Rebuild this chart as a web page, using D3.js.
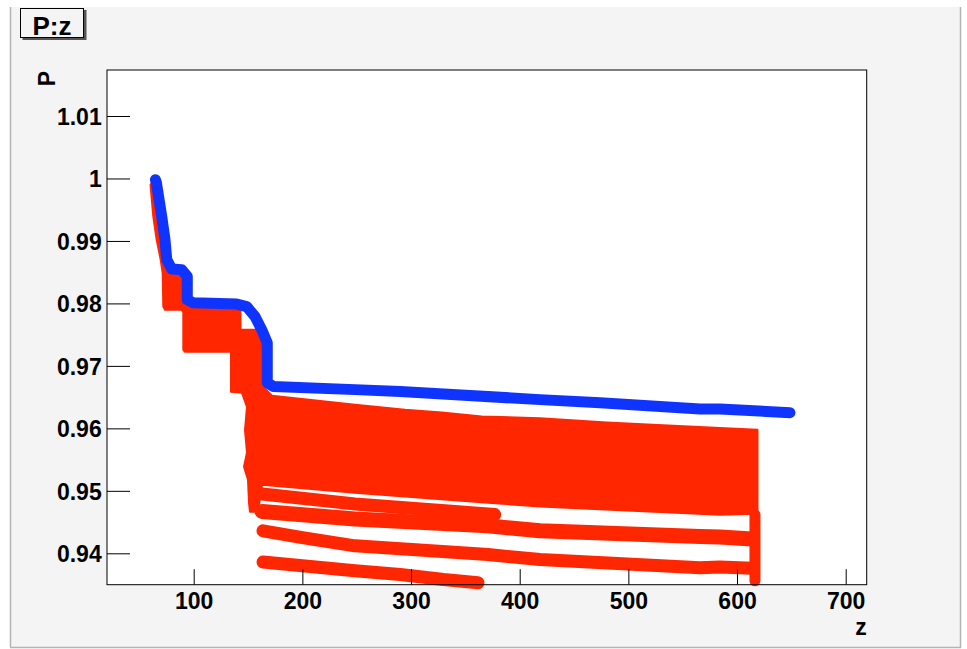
<!DOCTYPE html>
<html>
<head>
<meta charset="utf-8">
<script src="https://cdn.jsdelivr.net/npm/d3@7/dist/d3.min.js"></script>
<style>
body { margin: 0; background: #fff; }
text { font-family: "Liberation Sans", Arial, Helvetica, sans-serif; font-weight: bold; fill: #000; }
</style>
</head>
<body>
<div id="chart"></div>
<script>
// blue track, P versus z
var blueZ = [64.8, 65.6, 70.6, 73.6, 75.2, 79.8, 89.0, 94.1, 94.1, 99.6, 139.6, 148.8, 156.4, 162.6, 167.7, 167.7, 173.3, 248.4, 290, 418.7, 474, 565.9, 584.3, 648.7];
var blueP = [0.9998, 0.9994, 0.9939, 0.9902, 0.9870, 0.9855, 0.9854, 0.9843, 0.9806, 0.9801, 0.9799, 0.9795, 0.9779, 0.9758, 0.9737, 0.9673, 0.9667, 0.9662, 0.9659, 0.9646, 0.9641, 0.9631, 0.9631, 0.9625];

// outline of the dense red band (many overlapping red points)
var redBandZ = [64.4, 70.55, 75.15, 79.76, 88.96, 94.11, 94.11, 99.63, 139.57, 143.07, 143.07, 159.17, 164.69, 164.69, 172.05, 248.43, 294.44, 328.21, 365.02, 418.67, 480.05, 541.34, 584.31, 618.82,
                618.82, 584.31, 418.67, 370.82, 248.43, 162.85, 159.17, 151.81, 150.89, 149.97, 146.29, 149.05, 147.21, 149.05, 144.45, 134.32, 134.32, 91.99, 90.43, 90.43, 88.96, 73.59, 72.03, 71.47, 69.63, 65.95, 62.82, 60.25];
var redBandP = [1.0001, 0.99392, 0.98699, 0.98550, 0.98538, 0.98431, 0.98058, 0.98005, 0.97994, 0.97962, 0.97578, 0.97578, 0.97338, 0.96650, 0.96521, 0.96377, 0.96297, 0.96254, 0.96190, 0.96161, 0.96094, 0.96041, 0.96004, 0.95977,
                0.94632, 0.94616, 0.94749, 0.94809, 0.94969, 0.95097, 0.94665, 0.94665, 0.94809, 0.95177, 0.95385, 0.95609, 0.95977, 0.96345, 0.96569, 0.96585, 0.97226, 0.97226, 0.97258, 0.97866, 0.97898, 0.97898, 0.97951, 0.98486, 0.98699, 0.99019, 0.99392, 0.99899];

// separate red tracks below the band
var trackAZ = [162.9, 248.4, 370.8, 377.0];
var trackAP = [0.9495, 0.9479, 0.9463, 0.9462];
var trackBZ = [162.9, 248.4, 370.8, 418.7, 565.9, 584.3, 614.0];
var trackBP = [0.9467, 0.9455, 0.9444, 0.9436, 0.9427, 0.9426, 0.9423];
var trackCZ = [163.8, 200.0, 248.4, 370.8, 418.7, 565.9, 584.3, 614.0];
var trackCP = [0.9436, 0.9425, 0.9412, 0.9398, 0.9390, 0.9377, 0.9378, 0.9376];
var trackDZ = [163.8, 248.4, 290.0, 330.0, 361.6];
var trackDP = [0.9386, 0.9372, 0.9366, 0.9358, 0.9353];
var edgeZ = [616.5, 616.5];
var edgeP = [0.9462, 0.9356];

// axes
var xMajor = [100, 200, 300, 400, 500, 600, 700];
var xLabels = ["100", "200", "300", "400", "500", "600", "700"];
var yMajor = [0.94, 0.95, 0.96, 0.97, 0.98, 0.99, 1.00, 1.01];
var yLabels = ["0.94", "0.95", "0.96", "0.97", "0.98", "0.99", "1", "1.01"];
var xMinor = d3.range(40, 720, 20);
var yMinor = d3.range(936, 1018, 2).map(function (v) { return v / 1000; });

var W = 967, H = 649;
var fr = {left: 107, top: 70, right: 866.7, bottom: 584.7};

var svg = d3.select("#chart").append("svg").attr("width", W).attr("height", H);

// pad
svg.append("rect").attr("x", 0).attr("y", 0).attr("width", W).attr("height", H).attr("fill", "#fff");
svg.append("rect").attr("x", 10).attr("y", 7).attr("width", 950).attr("height", 640).attr("fill", "#f4f4f4");
svg.append("line").attr("x1", 10.5).attr("x2", 10.5).attr("y1", 7).attr("y2", 647).attr("stroke", "#b4b4b4").attr("stroke-width", 1.5);
svg.append("line").attr("x1", 10).attr("x2", 961).attr("y1", 647.5).attr("y2", 647.5).attr("stroke", "#b4b4b4").attr("stroke-width", 1.5);
svg.append("line").attr("x1", 960.5).attr("x2", 960.5).attr("y1", 7).attr("y2", 648).attr("stroke", "#b4b4b4").attr("stroke-width", 1.5);

// frame
svg.append("rect").attr("x", fr.left).attr("y", fr.top).attr("width", fr.right - fr.left).attr("height", fr.bottom - fr.top).attr("fill", "#fff");

var x = d3.scaleLinear().domain([20.22, 719.33]).range([fr.left, fr.right]);
var y = d3.scaleLinear().domain([0.934974, 1.017364]).range([fr.bottom, fr.top]);

var line = d3.line().x(function (d) { return x(d[0]); }).y(function (d) { return y(d[1]); });
var red = "#ff2600", blue = "#1034ff";

var band = redBandZ.map(function (z, i) { return [z, redBandP[i]]; });
svg.append("path")
    .attr("d", line(band) + "Z")
    .attr("fill", red)
    .attr("stroke", red)
    .attr("stroke-width", 2)
    .attr("stroke-linejoin", "round");

var tracks = [[trackAZ, trackAP, 13], [trackBZ, trackBP, 15], [trackCZ, trackCP, 13], [trackDZ, trackDP, 13], [edgeZ, edgeP, 11]];
tracks.forEach(function (t) {
    var pts = t[0].map(function (z, i) { return [z, t[1][i]]; });
    svg.append("path")
        .attr("d", line(pts))
        .attr("fill", "none")
        .attr("stroke", red)
        .attr("stroke-width", t[2])
        .attr("stroke-linecap", "round")
        .attr("stroke-linejoin", "round");
});

var bluePts = blueZ.map(function (z, i) { return [z, blueP[i]]; });
svg.append("path")
    .attr("d", line(bluePts))
    .attr("fill", "none")
    .attr("stroke", blue)
    .attr("stroke-width", 11)
    .attr("stroke-linecap", "round")
    .attr("stroke-linejoin", "round");

// ticks
var gx = svg.append("g").attr("transform", "translate(0," + fr.bottom + ")");
gx.call(d3.axisBottom(x).tickValues(xMinor).tickSizeInner(-7.5).tickSizeOuter(0).tickFormat(""));
gx.call(d3.axisBottom(x).tickValues(xMajor).tickSizeInner(-15.5).tickSizeOuter(0).tickFormat(function (d, i) { return xLabels[i]; }));
gx.selectAll(".domain").remove();
gx.selectAll("line").attr("stroke", "#000");
gx.selectAll("text").attr("y", 24).attr("dy", null).attr("font-size", 23).style("font-family", null);

var gy = svg.append("g").attr("transform", "translate(" + fr.left + ",0)");
gy.call(d3.axisLeft(y).tickValues(yMinor).tickSizeInner(-11.5).tickSizeOuter(0).tickFormat(""));
gy.call(d3.axisLeft(y).tickValues(yMajor).tickSizeInner(-23).tickSizeOuter(0).tickFormat(function (d, i) { return yLabels[i]; }));
gy.selectAll(".domain").remove();
gy.selectAll("line").attr("stroke", "#000");
gy.selectAll("text").attr("x", -5.3).attr("dy", "0.36em").attr("font-size", 23).style("font-family", null);

svg.append("rect").attr("x", fr.left).attr("y", fr.top).attr("width", fr.right - fr.left).attr("height", fr.bottom - fr.top)
    .attr("fill", "none").attr("stroke", "#000").attr("stroke-width", 1);

// axis titles
svg.append("text").attr("transform", "translate(55,71) rotate(-90)").attr("text-anchor", "end").attr("font-size", 23).text("P");
svg.append("text").attr("x", fr.right).attr("y", 635).attr("text-anchor", "end").attr("font-size", 23).text("z");

// title box
svg.append("rect").attr("x", 22.5).attr("y", 10).attr("width", 64).attr("height", 30).attr("fill", "#555");
svg.append("rect").attr("x", 20.5).attr("y", 8.5).attr("width", 63).attr("height", 29).attr("fill", "#f4f4f4").attr("stroke", "#000").attr("stroke-width", 1);
svg.append("text").attr("x", 52).attr("y", 34.5).attr("text-anchor", "middle").attr("font-size", 26).text("P:z");
</script>
</body>
</html>
